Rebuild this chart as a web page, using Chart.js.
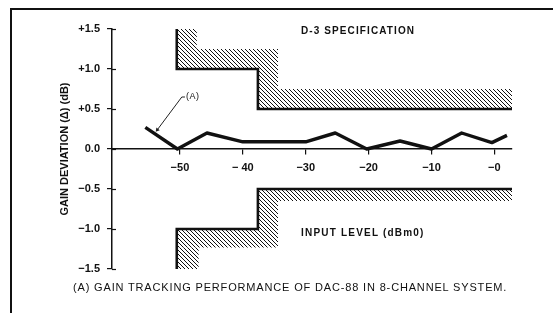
<!DOCTYPE html>
<html>
<head>
<meta charset="utf-8">
<script src="https://cdn.jsdelivr.net/npm/chart.js@4"></script>
<style>
  html, body { margin:0; padding:0; background:#fff; }
  #wrap { position:relative; width:553px; height:313px; overflow:hidden; font-family:"Liberation Sans", Arial, sans-serif; color:#111; }
  #frame { position:absolute; left:10px; top:8px; width:560px; height:320px; border-top:2px solid #111; border-left:2px solid #111; }
  canvas { position:absolute; left:0; top:0; }
  .t { position:absolute; white-space:nowrap; line-height:1; }
  .b { font-weight:bold; font-size:10px; letter-spacing:1.1px; }
</style>
</head>
<body>
<div id="wrap">
  <div id="frame"></div>
  <canvas id="c" width="553" height="313"></canvas>
  <div class="t b" style="left:301px; top:26px;">D-3 SPECIFICATION</div>
  <div class="t b" style="left:301px; top:228px; letter-spacing:1.2px;">INPUT LEVEL (dBm0)</div>
  <div class="t" style="left:186px; top:92px; font-size:9px; letter-spacing:0.5px;">(A)</div>
  <div class="t" style="left:73px; top:282px; font-size:11px; letter-spacing:0.84px;">(A) GAIN TRACKING PERFORMANCE OF DAC-88 IN 8-CHANNEL SYSTEM.</div>
</div>
<script>
// axis ticks
const xTicks = [-50, -40, -30, -20, -10, 0];
const xTickLabels = ["\u221250", "\u2212 40", "\u221230", "\u221220", "\u221210", "\u22120"];
const yTicks = [-1.5, -1, -0.5, 0, 0.5, 1, 1.5];
const yTickLabels = ["\u22121.5", "\u22121.0", "\u22120.5", "0.0", "+0.5", "+1.0", "+1.5"];

// curve (A): gain deviation vs input level
const levelDbm0 = [-55.5, -50.4, -45.7, -40, -30, -25.3, -20.3, -15, -10, -5.2, -0.4, 2];
const gainDev   = [0.27, 0, 0.2, 0.09, 0.09, 0.2, 0, 0.1, 0, 0.2, 0.08, 0.17];

// D-3 spec mask
const specX      = [-50.5, -50.5, -37.6, -37.6, 2.8];
const specUpperY = [1.5, 1.0, 1.0, 0.5, 0.5];
const specLowerY = [-1.5, -1.0, -1.0, -0.5, -0.5];

// hatched forbidden zones (rectangles)
const hatchX0 = [-50.5, -50.5, -37.6, -37.6, -50.5, -50.5, -37.6, -37.6];
const hatchX1 = [-47.3, -34.4, -34.4, 2.8, -47.0, -34.4, -34.4, 2.8];
const hatchLo = [1.25, 1.0, 0.75, 0.5, -1.5, -1.23, -1.0, -0.65];
const hatchHi = [1.5, 1.25, 1.0, 0.75, -1.23, -1.0, -0.65, -0.5];

// leader line for label (A)
const leaderX = [-49.2, -49.7, -53.6];
const leaderY = [0.65, 0.65, 0.24];

function hatchPattern(){
  const s = 4;
  const p = document.createElement("canvas");
  p.width = s; p.height = s;
  const g = p.getContext("2d");
  g.strokeStyle = "#111";
  g.lineWidth = 1;
  g.beginPath();
  g.moveTo(-1, -1); g.lineTo(s+1, s+1);
  g.moveTo(-1, s-1); g.lineTo(1, s+1);
  g.moveTo(s-1, -1); g.lineTo(s+1, 1);
  g.stroke();
  return g.createPattern(p, "repeat");
}
const pat = hatchPattern();

const pts = (xs, ys) => xs.map((x, i) => ({x, y: ys[i]}));

const datasets = [];
hatchX0.forEach((x0, i) => {
  datasets.push({
    data: [{x: x0, y: hatchHi[i]}, {x: hatchX1[i], y: hatchHi[i]}],
    showLine: true, borderWidth: 0, pointRadius: 0,
    backgroundColor: pat, fill: {value: hatchLo[i]}
  });
});
datasets.push({ data: pts(specX, specUpperY), showLine: true, borderColor: "#111", borderWidth: 2.6, pointRadius: 0, fill: false });
datasets.push({ data: pts(specX, specLowerY), showLine: true, borderColor: "#111", borderWidth: 2.6, pointRadius: 0, fill: false });
datasets.push({ data: pts(levelDbm0, gainDev), showLine: true, borderColor: "#111", borderWidth: 3.4, pointRadius: 0, fill: false, borderJoinStyle: "round" });
datasets.push({
  data: pts(leaderX, leaderY), showLine: true, borderColor: "#222", borderWidth: 1, fill: false,
  pointRadius: [0, 0, 2.5], pointStyle: "triangle", pointRotation: 219,
  pointBackgroundColor: "#222", pointBorderColor: "#222", pointBorderWidth: 0
});

// y ticks cross the axis on both sides
const crossTicks = {
  id: "crossTicks",
  afterDraw(chart){
    const y = chart.scales.y, ctx = chart.ctx;
    const x0 = y.right;
    ctx.save();
    ctx.strokeStyle = "#111"; ctx.lineWidth = 1.2;
    yTicks.forEach(v => {
      const py = Math.round(y.getPixelForValue(v)) + 0.5;
      ctx.beginPath(); ctx.moveTo(x0, py); ctx.lineTo(x0 + 4, py); ctx.stroke();
    });
    ctx.restore();
  }
};

Chart.defaults.font.family = "'Liberation Sans', Arial, sans-serif";
Chart.defaults.color = "#111";

new Chart(document.getElementById("c"), {
  type: "scatter",
  data: { datasets },
  options: {
    responsive: false,
    animation: false,
    layout: { padding: { left: 0, top: 29, right: 41, bottom: 44 } },
    plugins: { legend: { display: false }, tooltip: { enabled: false } },
    elements: { line: { tension: 0 } },
    scales: {
      x: {
        type: "linear", min: -60.8, max: 2.8,
        position: { y: 0 },
        afterBuildTicks: s => { s.ticks = xTicks.map(v => ({value: v})); },
        ticks: {
          autoSkip: false, maxRotation: 0, padding: 7,
          font: { size: 11, weight: "bold" },
          callback: (v) => xTickLabels[xTicks.indexOf(v)]
        },
        grid: { drawOnChartArea: false, tickLength: 5, color: "#111", lineWidth: 1.2 },
        border: { color: "#111", width: 1.5 }
      },
      y: {
        type: "linear", min: -1.5, max: 1.5,
        afterBuildTicks: s => { s.ticks = yTicks.map(v => ({value: v})); },
        afterFit: s => { s.width = 112; },
        ticks: {
          autoSkip: false, padding: 7,
          font: { size: 11, weight: "bold" },
          callback: (v) => yTickLabels[yTicks.indexOf(v)]
        },
        grid: { drawOnChartArea: false, tickLength: 5, color: "#111", lineWidth: 1.2 },
        border: { color: "#111", width: 1.5 },
        title: {
          display: true, text: "GAIN DEVIATION (\u0394) (dB)",
          font: { size: 11, weight: "bold" },
          padding: { top: 58, bottom: 0 }
        }
      }
    }
  },
  plugins: [crossTicks]
});
</script>
</body>
</html>
